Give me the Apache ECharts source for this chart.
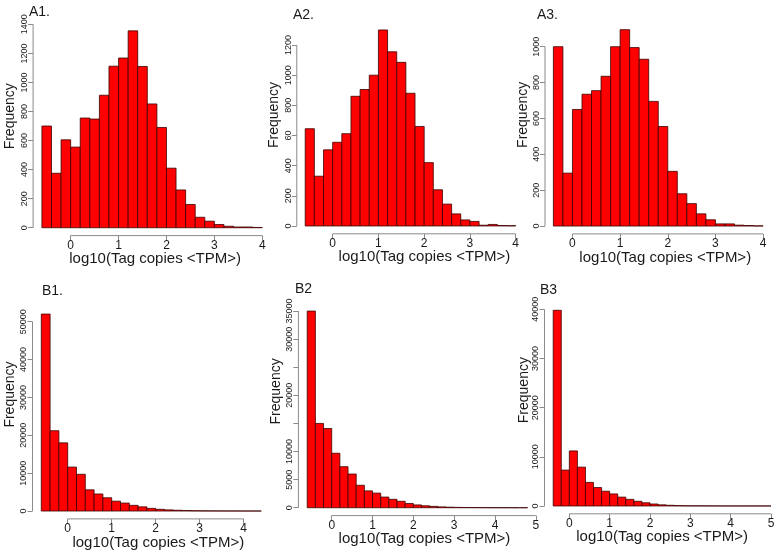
<!DOCTYPE html>
<html><head><meta charset="utf-8">
<script src="https://cdn.jsdelivr.net/npm/echarts@6/dist/echarts.min.js"></script>
<style>html,body{margin:0;padding:0;background:#fff}#c{width:777px;height:554px}</style>
</head><body><div id="c"></div>
<script>
// ---------------- data ----------------
const binWidth = 0.2;
const xTitle = 'log10(Tag copies <TPM>)';
const yTitle = 'Frequency';
const panelTags = ['A1.', 'A2.', 'A3.', 'B1.', 'B2', 'B3'];

const a1Start = -0.6;
const a1Counts = [700, 375, 605, 555, 755, 748, 912, 1112, 1168, 1355, 1110, 852, 690, 410, 260, 160, 72, 45, 22, 10, 5, 5, 2];
const a2Start = -0.6;
const a2Counts = [645, 330, 505, 555, 612, 860, 905, 1000, 1300, 1155, 1085, 880, 660, 420, 240, 145, 80, 40, 30, 5, 10, 3, 2];
const a3Start = -0.4;
const a3Counts = [1000, 295, 650, 735, 755, 835, 1000, 1095, 995, 930, 695, 555, 305, 180, 125, 68, 35, 12, 12, 5, 3, 1];
const b1Start = -0.6;
const b1Counts = [52000, 21200, 18000, 11600, 9700, 5600, 4500, 3500, 2600, 2100, 1500, 1100, 700, 450, 300, 200, 130, 80, 50, 35, 25, 18, 12, 8, 5];
const b2Start = -0.6;
const b2Counts = [35000, 15000, 14100, 9700, 7300, 6000, 4000, 3000, 2600, 1900, 1500, 1150, 750, 500, 350, 240, 150, 100, 60, 40, 30, 20, 15, 10, 8, 5, 3];
const b3Start = -0.4;
const b3Counts = [39800, 7300, 11200, 7900, 4800, 3750, 3000, 2450, 1800, 1350, 950, 650, 400, 230, 140, 80, 50, 35, 25, 18, 12, 8, 6, 5, 8, 6, 3];

const xTicks4 = [0, 1, 2, 3, 4];
const xTicks5 = [0, 1, 2, 3, 4, 5];
const yTicksA1 = [0, 200, 400, 600, 800, 1000, 1200, 1400];
const yLabelsA1 = ['0', '200', '400', '600', '800', '1000', '1200', '1400'];
const yTicksA2 = [0, 200, 400, 600, 800, 1000, 1200];
const yLabelsA2 = ['0', '200', '400', '60', '800', '1000', '1200'];
const yTicksA3 = [0, 200, 400, 600, 800, 1000];
const yLabelsA3 = ['0', '200', '400', '600', '800', '1000'];
const yTicksB1 = [0, 10000, 20000, 30000, 40000, 50000];
const yLabelsB1 = ['0', '10000', '20000', '30000', '40000', '50000'];
const yTicksB2 = [0, 5000, 10000, 15000, 20000, 25000, 30000, 35000];
const yLabelsB2 = ['0', '5000', '10000', '', '20000', '', '30000', '35000'];
const yTicksB3 = [0, 10000, 20000, 30000, 40000];
const yLabelsB3 = ['0', '10000', '20000', '30000', '40000'];

// ---------------- layout / style ----------------
const FONT = '"Liberation Sans", Arial, sans-serif';
const AXIS_COLOR = '#8a8a8a';
const TEXT_COLOR = '#1a1a1a';

const panels = [
  { start: a1Start, counts: a1Counts, xTicks: xTicks4, yTicks: yTicksA1, yLabels: yLabelsA1 },
  { start: a2Start, counts: a2Counts, xTicks: xTicks4, yTicks: yTicksA2, yLabels: yLabelsA2 },
  { start: a3Start, counts: a3Counts, xTicks: xTicks4, yTicks: yTicksA3, yLabels: yLabelsA3 },
  { start: b1Start, counts: b1Counts, xTicks: xTicks4, yTicks: yTicksB1, yLabels: yLabelsB1 },
  { start: b2Start, counts: b2Counts, xTicks: xTicks5, yTicks: yTicksB2, yLabels: yLabelsB2 },
  { start: b3Start, counts: b3Counts, xTicks: xTicks5, yTicks: yTicksB3, yLabels: yLabelsB3 }
];

const layout = [
  { grid: { left: 33.1, top: 23.0, width: 238.0, height: 212.6 }, tag: { left: 29, top: 5 },   xShift: 3,  yShift: 13, yGap: 16 },
  { grid: { left: 296.8, top: 22.1, width: 227.3, height: 211.7 }, tag: { left: 293, top: 8 }, xShift: 14, yShift: 13, yGap: 16 },
  { grid: { left: 545.0, top: 21.8, width: 226.5, height: 212.1 }, tag: { left: 537, top: 8 }, xShift: 7,  yShift: 13, yGap: 15 },
  { grid: { left: 32.5, top: 306.2, width: 237.6, height: 212.7 }, tag: { left: 42, top: 284 }, xShift: 7, yShift: 18, yGap: 15 },
  { grid: { left: 298.4, top: 303.2, width: 238.1, height: 212.4 }, tag: { left: 295, top: 282 }, xShift: 7, yShift: 18, yGap: 15 },
  { grid: { left: 544.5, top: 302.5, width: 235.2, height: 211.3 }, tag: { left: 540, top: 283 }, xShift: 0, yShift: 18, yGap: 13 }
];

function renderBar(params, api) {
  const x0 = api.value(0), x1 = api.value(1), y = api.value(2);
  const p0 = api.coord([x0, y]);
  const p1 = api.coord([x1, 0]);
  return {
    type: 'rect',
    shape: { x: p0[0], y: p0[1], width: p1[0] - p0[0], height: p1[1] - p0[1] },
    style: { fill: '#ff0000', stroke: '#3b0000', lineWidth: 0.8 }
  };
}

const option = { animation: false, backgroundColor: '#ffffff', grid: [], xAxis: [], yAxis: [], series: [], title: [] };

panels.forEach((p, i) => {
  const L = layout[i];
  const end = p.start + p.counts.length * binWidth;
  const xr = end - p.start;
  const xMinPlot = p.start - 0.04 * xr, xMaxPlot = end + 0.04 * xr;
  const ymax = Math.max(...p.counts);
  const yMinPlot = -0.04 * ymax, yMaxPlot = 1.04 * ymax;
  const labelMap = {};
  p.yTicks.forEach((t, k) => { labelMap[t] = p.yLabels[k]; });

  option.grid.push(Object.assign({ outerBoundsMode: 'none', containLabel: false }, L.grid));
  option.title.push({ text: panelTags[i], left: L.tag.left, top: L.tag.top, padding: 0,
    textStyle: { fontSize: 14, fontWeight: 'normal', color: TEXT_COLOR, fontFamily: FONT } });

  option.xAxis.push({
    gridIndex: i, type: 'value', min: xMinPlot, max: xMaxPlot, position: 'bottom',
    axisLine: { show: false, onZero: false }, splitLine: { show: false },
    axisTick: { show: true, customValues: p.xTicks, length: 5, lineStyle: { color: AXIS_COLOR } },
    axisLabel: { customValues: p.xTicks, margin: 4, fontSize: 12, color: TEXT_COLOR, fontFamily: FONT },
    name: xTitle, nameLocation: 'middle', nameGap: 16, nameMoveOverlap: false,
    nameTextStyle: { fontSize: 15, color: TEXT_COLOR, fontFamily: FONT, padding: [0, 0, 0, 2 * L.xShift] }
  });
  option.yAxis.push({
    gridIndex: i, type: 'value', min: yMinPlot, max: yMaxPlot, position: 'left',
    axisLine: { show: false, onZero: false }, splitLine: { show: false },
    axisTick: { show: true, customValues: p.yTicks, length: 5, lineStyle: { color: AXIS_COLOR } },
    axisLabel: { customValues: p.yTicks, margin: 4, rotate: 90, fontSize: 9, color: TEXT_COLOR, fontFamily: FONT,
      formatter: v => (labelMap[v] !== undefined ? labelMap[v] : '') },
    name: yTitle, nameLocation: 'middle', nameGap: L.yGap, nameMoveOverlap: false,
    nameTextStyle: { fontSize: 14, color: TEXT_COLOR, fontFamily: FONT, padding: [0, 0, 0, 2 * L.yShift] }
  });

  option.series.push({
    type: 'custom', xAxisIndex: i, yAxisIndex: i, renderItem: renderBar, silent: true,
    encode: { x: [0, 1], y: 2 },
    data: p.counts.map((c, k) => [p.start + k * binWidth, p.start + (k + 1) * binWidth, c])
  });
  // R-style axis lines spanning first..last tick
  const lineStyle = { color: AXIS_COLOR, width: 1 };
  option.series.push({
    type: 'line', xAxisIndex: i, yAxisIndex: i, symbol: 'none', clip: false, silent: true, z: 5,
    lineStyle: lineStyle,
    data: [[p.xTicks[0], yMinPlot], [p.xTicks[p.xTicks.length - 1], yMinPlot]]
  });
  option.series.push({
    type: 'line', xAxisIndex: i, yAxisIndex: i, symbol: 'none', clip: false, silent: true, z: 5,
    lineStyle: lineStyle,
    data: [[xMinPlot, p.yTicks[0]], [xMinPlot, p.yTicks[p.yTicks.length - 1]]]
  });
});

const chart = echarts.init(document.getElementById('c'), null, { renderer: 'canvas' });
chart.setOption(option);
</script>
</body></html>
